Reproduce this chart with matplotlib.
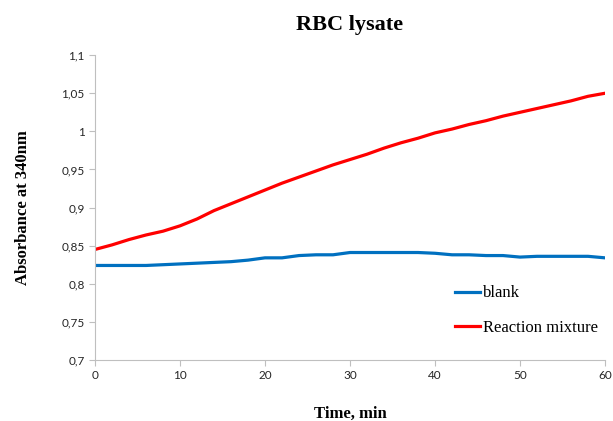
import matplotlib
matplotlib.use("Agg")
import matplotlib.pyplot as plt
from matplotlib.ticker import FuncFormatter

# readings every 2 min
time_min = [0, 2, 4, 6, 8, 10, 12, 14, 16, 18, 20, 22, 24, 26, 28, 30,
            32, 34, 36, 38, 40, 42, 44, 46, 48, 50, 52, 54, 56, 58, 60]
blank = [0.824, 0.824, 0.824, 0.824, 0.825, 0.826, 0.827, 0.828, 0.829, 0.831,
         0.834, 0.834, 0.837, 0.838, 0.838, 0.841, 0.841, 0.841, 0.841, 0.841,
         0.840, 0.838, 0.838, 0.837, 0.837, 0.835, 0.836, 0.836, 0.836, 0.836,
         0.834]
reaction = [0.845, 0.851, 0.858, 0.864, 0.869, 0.876, 0.885, 0.896, 0.905, 0.914,
            0.923, 0.932, 0.940, 0.948, 0.956, 0.963, 0.970, 0.978, 0.985, 0.991,
            0.998, 1.003, 1.009, 1.014, 1.020, 1.025, 1.030, 1.035, 1.040, 1.046,
            1.050]

serif = "Liberation Serif"
sans = "Lato"

fig = plt.figure(figsize=(6.13, 4.21), dpi=100)
ax = fig.add_axes([0.155, 0.145, 0.832, 0.724])

ax.plot(time_min, blank, color="#0070C0", lw=2.3, label="blank")
ax.plot(time_min, reaction, color="#FF0000", lw=2.3, label="Reaction mixture")

ax.set_xlim(0, 60)
ax.set_ylim(0.7, 1.1)
ax.set_xticks(range(0, 61, 10))
ax.set_yticks([0.7, 0.75, 0.8, 0.85, 0.9, 0.95, 1.0, 1.05, 1.1])

def comma(v, pos):
    s = f"{v:.2f}".rstrip("0").rstrip(".")
    return s.replace(".", ",")

ax.yaxis.set_major_formatter(FuncFormatter(comma))
for lab in ax.get_xticklabels() + ax.get_yticklabels():
    lab.set_fontfamily(sans)
    lab.set_fontsize(8.5)

for s in ["top", "right"]:
    ax.spines[s].set_visible(False)
for s in ["left", "bottom"]:
    ax.spines[s].set_color("#BFBFBF")
ax.tick_params(labelcolor="#262626", length=4, width=0.8, color="#BFBFBF")

ax.set_title("RBC lysate", fontfamily=serif, fontweight="bold", fontsize=16, pad=18)
ax.set_xlabel("Time, min", fontfamily=serif, fontweight="bold", fontsize=12, labelpad=18)
ax.set_ylabel("Absorbance at 340nm", fontfamily=serif, fontweight="bold", fontsize=12, labelpad=22)

ax.legend(loc="lower right", bbox_to_anchor=(1.015, 0.03), frameon=False,
          prop={"family": serif, "size": 12}, handlelength=1.5, handletextpad=0.15,
          labelspacing=1.1)

fig.savefig("out.png", dpi=100)
